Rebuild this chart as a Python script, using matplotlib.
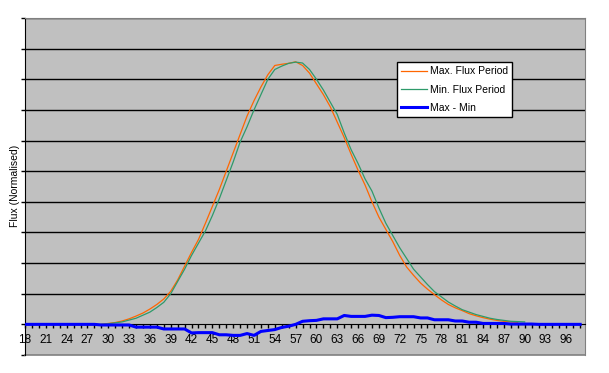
import matplotlib
matplotlib.use("Agg")
import matplotlib.pyplot as plt
from matplotlib.ticker import FixedLocator, NullFormatter

plt.rcParams['font.family'] = ['Liberation Sans', 'DejaVu Sans']

# category positions and series values
cats = list(range(18, 99))
curve_x = list(range(29, 91))

max_flux = [0.000, 0.003, 0.006, 0.011, 0.018, 0.027, 0.037, 0.050, 0.065, 0.083,
            0.108, 0.145, 0.190, 0.235, 0.277, 0.330, 0.385, 0.440, 0.500, 0.560,
            0.620, 0.680, 0.730, 0.775, 0.815, 0.845, 0.849, 0.852, 0.857, 0.845,
            0.820, 0.785, 0.750, 0.710, 0.660, 0.610, 0.555, 0.503, 0.455, 0.400,
            0.350, 0.310, 0.270, 0.225, 0.187, 0.160, 0.135, 0.115, 0.097, 0.080,
            0.065, 0.054, 0.045, 0.035, 0.028, 0.022, 0.017, 0.013, 0.010, 0.008,
            0.007, None]

min_flux = [0.000, 0.002, 0.005, 0.008, 0.014, 0.020, 0.030, 0.040, 0.055, 0.072,
            0.100, 0.140, 0.180, 0.225, 0.265, 0.305, 0.355, 0.410, 0.470, 0.530,
            0.595, 0.645, 0.700, 0.750, 0.800, 0.832, 0.843, 0.852, 0.856, 0.853,
            0.832, 0.800, 0.765, 0.725, 0.685, 0.625, 0.570, 0.525, 0.475, 0.435,
            0.380, 0.330, 0.290, 0.250, 0.215, 0.180, 0.155, 0.130, 0.107, 0.090,
            0.073, 0.060, 0.048, 0.040, 0.032, 0.026, 0.020, 0.016, 0.013, 0.010,
            0.009, 0.008]

max_minus_min = [0.000, 0.000, 0.000, 0.000, 0.000, 0.000, 0.000, 0.000, 0.000, 0.000,
                 0.000, -0.002, -0.002, -0.002, -0.002, -0.002, -0.009, -0.009, -0.009, -0.009,
                 -0.015, -0.015, -0.015, -0.015, -0.028, -0.027, -0.027, -0.027, -0.034, -0.034,
                 -0.036, -0.036, -0.030, -0.036, -0.023, -0.020, -0.017, -0.010, -0.006, 0.000,
                 0.010, 0.012, 0.013, 0.018, 0.018, 0.018, 0.029, 0.026, 0.026, 0.026,
                 0.030, 0.029, 0.022, 0.023, 0.025, 0.025, 0.025, 0.021, 0.021, 0.015,
                 0.015, 0.015, 0.011, 0.011, 0.007, 0.007, 0.003, 0.003, 0.003, 0.003,
                 0.001, 0.001, 0.001, 0.001, 0.000, 0.000, 0.000, 0.000, 0.000, 0.000,
                 0.000]

x_labels = list(range(18, 97, 3))
y_grid = [i / 10 for i in range(-1, 11)]

fig = plt.figure(figsize=(6.09, 3.73), dpi=100)
ax = fig.add_axes([25 / 609, 1 - 355 / 373, 560 / 609, 337 / 373])
ax.set_facecolor('#C0C0C0')

for g in y_grid[2:]:
    ax.axhline(g, color='black', lw=1, zorder=1)

mx = [(x, v) for x, v in zip(curve_x, max_flux) if v is not None]
ax.plot([p[0] for p in mx], [p[1] for p in mx], color='#FF6600', lw=0.9,
        label='Max. Flux Period', zorder=3)
ax.plot(curve_x, min_flux, color='#2E9A6A', lw=0.9, label='Min. Flux Period', zorder=3)
ax.plot(cats, max_minus_min, color='#0000FF', lw=2.2, label='Max - Min', zorder=4)

ax.set_xlim(18, 98.7)
ax.set_ylim(-0.1, 1.0)

# x axis crosses at zero
ax.spines['bottom'].set_position(('data', 0))
ax.spines['bottom'].set_color('black')
ax.spines['left'].set_color('black')
ax.spines['top'].set_color('#808080')
ax.spines['right'].set_color('#808080')
ax.plot([0, 1], [0, 0], transform=ax.transAxes, color='#808080', lw=1.2, clip_on=False)

ax.xaxis.set_major_locator(FixedLocator(x_labels))
ax.xaxis.set_minor_locator(FixedLocator(cats))
ax.set_xticklabels([str(v) for v in x_labels])
ax.tick_params(axis='x', which='both', direction='out', length=3, width=1,
               labelsize=8.5, pad=4)

ax.yaxis.set_major_locator(FixedLocator(y_grid))
ax.yaxis.set_major_formatter(NullFormatter())
ax.tick_params(axis='y', direction='out', length=3, width=1)

fig.text(15 / 609, 1 - 186 / 373, 'Flux (Normalised)', rotation=90,
         ha='center', va='center', fontsize=7.5)

leg = ax.legend(loc='upper left', bbox_to_anchor=(0.664, 0.869), borderaxespad=0,
                fancybox=False, framealpha=1, edgecolor='black', fontsize=7.5,
                handlelength=2.5, handletextpad=0.3, borderpad=0.4, labelspacing=0.8)
leg.get_frame().set_linewidth(1)

fig.savefig('out.png', dpi=100, facecolor='white')
